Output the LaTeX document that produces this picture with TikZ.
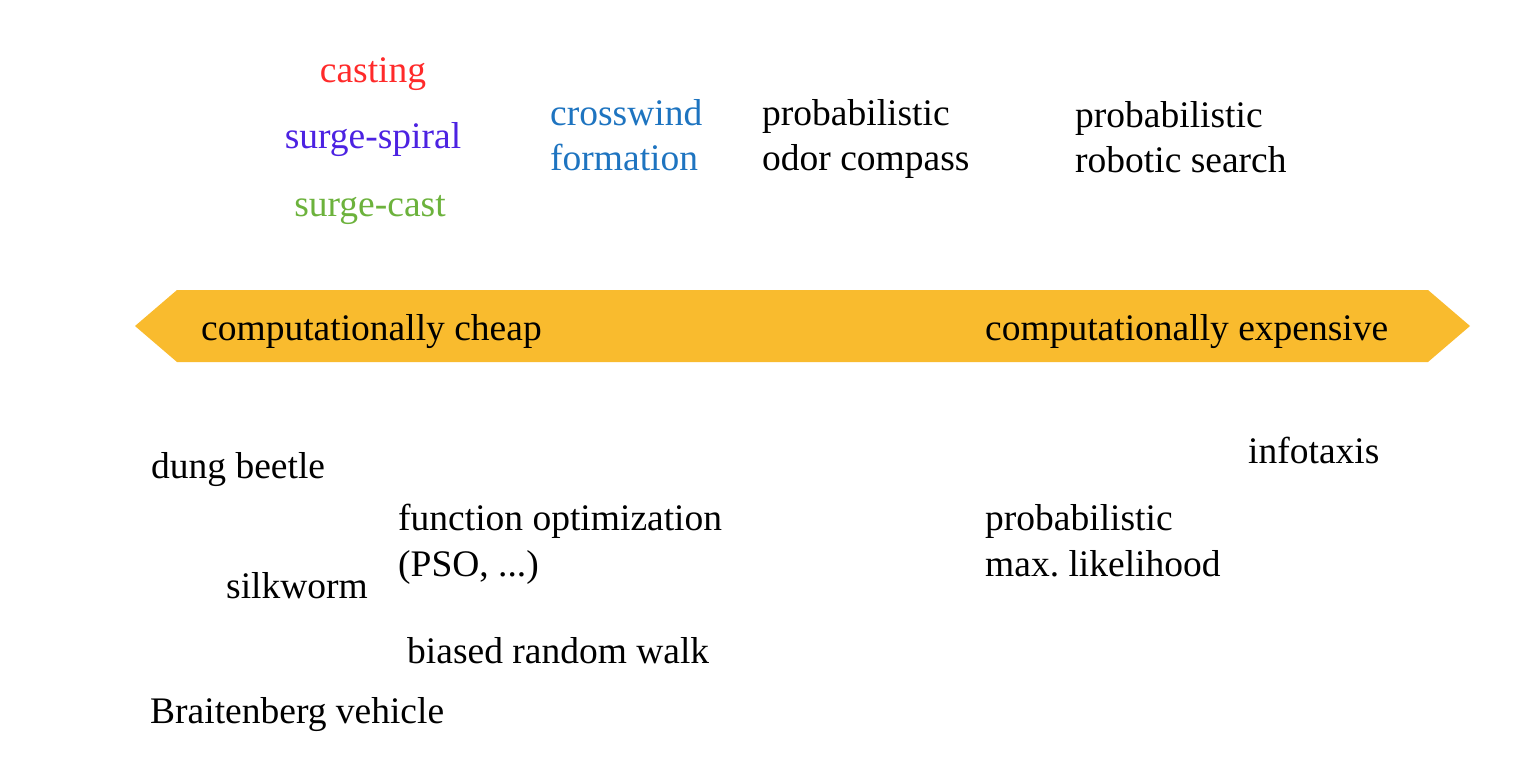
\documentclass[tikz,border=0pt]{standalone}
\usepackage{fontspec}
\setmainfont{Liberation Serif}
\usetikzlibrary{positioning}
\definecolor{bandorange}{RGB}{249,187,46}
\definecolor{castred}{RGB}{255,42,42}
\definecolor{spiralblue}{RGB}{76,34,226}
\definecolor{castgreen}{RGB}{108,178,60}
\definecolor{windblue}{RGB}{30,116,192}

\begin{document}
\begin{tikzpicture}[x=1pt,y=-1pt,font=\fontsize{37.5}{45.5}\selectfont,
  lbl/.style={anchor=base west,inner sep=0pt,align=left},
  mid/.style={anchor=base,inner sep=0pt}]
\useasboundingbox (0,0) rectangle (1522,762);
% cost axis
\fill[bandorange] (135,326) -- (177,290) -- (1428,290) -- (1470,326) -- (1428,362) -- (177,362) -- cycle;
\node[lbl](cheap) at (201,340){computationally cheap};
\node[lbl](expensive) at (985,340){computationally expensive};
% above the axis (two-line labels sit on their last line)
\node[mid,text=castred](cast) at (373,83){casting};
\node[mid,text=spiralblue](spiral) at (373,149){surge-spiral};
\node[mid,text=castgreen](surgecast) at (370,216){surge-cast};
\node[lbl,text=windblue](cross) at (550,171){crosswind\\formation};
\node[lbl](odor) at (762,171){probabilistic\\odor compass};
\node[lbl](robot) at (1075,173){probabilistic\\robotic search};
% below the axis
\node[lbl](dung) at (151,478){dung beetle};
\node[lbl](info) at (1248,463){infotaxis};
\node[lbl](funcopt) at (398,576){function optimization\\(PSO, ...)};
\node[lbl](maxlik) at (985,576){probabilistic\\max.\ likelihood};
\node[lbl](silk) at (226,598){silkworm};
\node[lbl](brw) at (407,663){biased random walk};
\node[lbl](braiten) at (150,723){Braitenberg vehicle};
\end{tikzpicture}
\end{document}
